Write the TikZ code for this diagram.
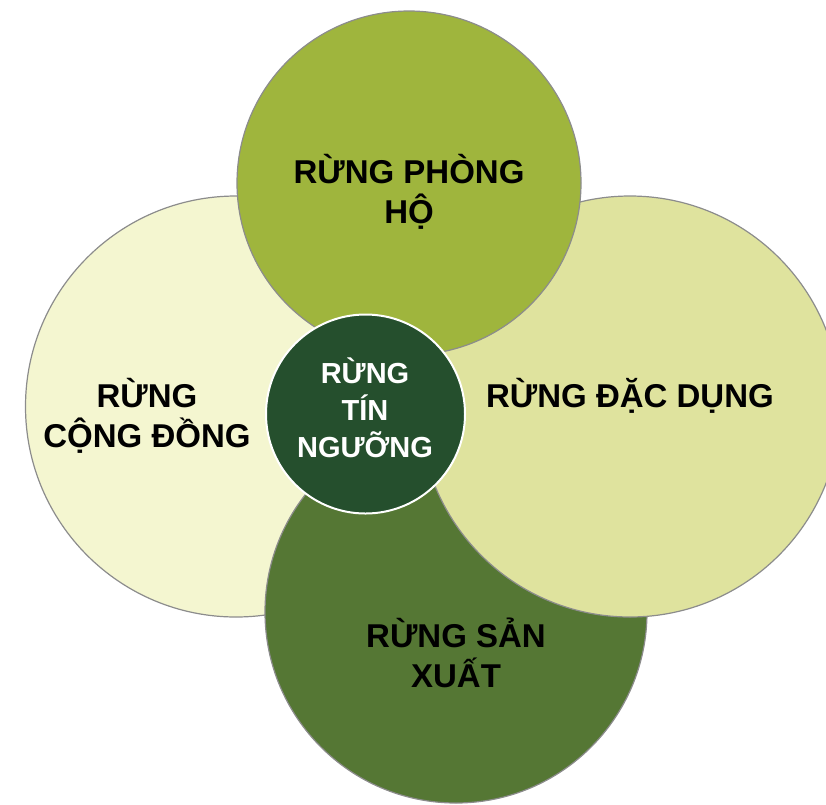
\documentclass[tikz,border=0pt]{standalone}
\usepackage{fontspec}
\setmainfont{Liberation Sans}
\definecolor{verdeOliva}{RGB}{159,181,61}
\definecolor{cremaChiaro}{RGB}{244,246,208}
\definecolor{gialloPallido}{RGB}{223,227,158}
\definecolor{verdeMedio}{RGB}{85,119,52}
\definecolor{verdeScuro}{RGB}{37,79,45}
\definecolor{bordoGrigio}{RGB}{140,140,140}
\begin{document}
\begin{tikzpicture}[
                x=1pt, y=-1pt,
                font=\bfseries\fontsize{33}{40}\selectfont,
                % Stile per i cerchi delle categorie
                cerchio/.style={
                    circle,
                    draw=bordoGrigio,
                    line width=1.2pt,
                    inner sep=0pt,
                    minimum size=#1
                },
                % Stile per le scritte (base = ultima riga)
                etichetta/.style={
                    align=center,
                    inner sep=0pt,
                    anchor=base
                }
            ]

                \useasboundingbox (0,0) rectangle (826,804);

                % --- Cerchi esterni ---
                \node[cerchio=421pt, fill=cremaChiaro] (CD) at (236,406.5) {};
                \node[cerchio=382pt, fill=verdeMedio] (SX) at (456,612) {};
                \node[cerchio=421pt, fill=gialloPallido] (DD) at (630,406.5) {};
                \node[cerchio=344pt, fill=verdeOliva] (PH) at (409,183) {};

                % --- Cerchio centrale ---
                \node[cerchio=199pt, fill=verdeScuro, draw=white, line width=2pt] (TN) at (365.5,414) {};

                % --- Scritte ---
                \node[etichetta] (tPH) at (409,223) {RỪNG PHÒNG\\HỘ};
                \node[etichetta] (tCD) at (147,447) {RỪNG\\CỘNG ĐỒNG};
                \node[etichetta] (tDD) at (630,407) {RỪNG ĐẶC DỤNG};
                \node[etichetta] (tSX) at (456,687) {RỪNG SẢN\\XUẤT};
                \node[etichetta, text=white, font=\bfseries\fontsize{29}{37}\selectfont]
                    (tTN) at (365,457) {RỪNG\\TÍN\\NGƯỠNG};

            \end{tikzpicture}
\end{document}
